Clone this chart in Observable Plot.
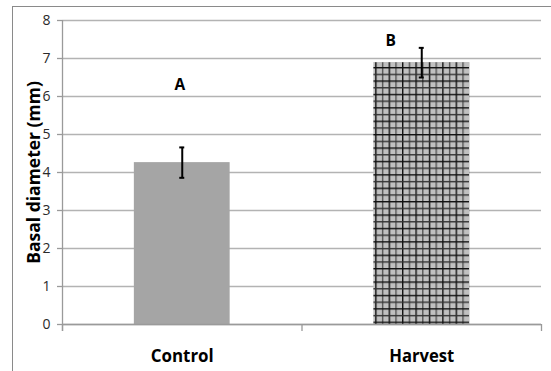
<!DOCTYPE html>
<html>
<head>
<meta charset="utf-8">
<script src="https://cdn.jsdelivr.net/npm/d3@7"></script>
<script src="https://cdn.jsdelivr.net/npm/@observablehq/plot@0.6"></script>
<style>
  html, body { margin: 0; padding: 0; background: #fff; }
  #wrap { position: relative; width: 551px; height: 371px; overflow: hidden; }
  #frame { position: absolute; left: 12px; top: 6px; right: -2px; bottom: -2px;
           border-left: 1px solid #8a8a8a; border-top: 1px solid #8a8a8a; }
  #chart { position: absolute; left: 0; top: 0; }
</style>
</head>
<body>
<div id="wrap"><div id="frame"></div><div id="chart"></div></div>
<script>
// Treatments and mean basal diameter (mm) with standard error
const categories = ["Control", "Harvest"];
const means = [4.26, 6.89];
const errors = [0.40, 0.39];
// Significance letters and where they sit (x in category units, y in mm)
const letters = ["A", "B"];
const letterX = [0.49, 1.37];
const letterY = [6.29, 7.45];
const yTicks = [0, 1, 2, 3, 4, 5, 6, 7, 8];
const yTitle = "Basal diameter (mm)";

const rows = categories.map((c, i) => ({
  cat: c, idx: i, mean: means[i], lo: means[i] - errors[i], hi: means[i] + errors[i]
}));
const letterRows = letters.map((t, i) => ({t, x: letterX[i], y: letterY[i]}));

const barHalf = 0.2;         // bar half-width in category units
const axisGray = "#9a9a9a";
const font = "'Open Sans', 'Liberation Sans', sans-serif";

const chart = Plot.plot({
  width: 551,
  height: 371,
  marginLeft: 62,
  marginRight: 10,
  marginTop: 20,
  marginBottom: 47,
  style: {fontFamily: font, background: "transparent", overflow: "visible"},
  x: {domain: [0, 2]},
  y: {domain: [0, 8]},
  color: {domain: categories, range: ["#a5a5a5", "url(#grid)"]},
  marks: [
    Plot.gridY(yTicks, {stroke: "#b3b3b3", strokeOpacity: 1, strokeWidth: 1.3}),
    Plot.rectY(rows, {x1: d => d.idx + 0.5 - barHalf, x2: d => d.idx + 0.5 + barHalf, y1: 0, y2: "mean", fill: "cat"}),
    Plot.ruleX(rows, {x: d => d.idx + 0.5, y1: "lo", y2: "hi", stroke: "#000", strokeWidth: 2}),
    Plot.ruleY(rows, {y: "hi", x1: d => d.idx + 0.5, x2: d => d.idx + 0.5, insetLeft: -2.5, insetRight: -2.5, stroke: "#000", strokeWidth: 2}),
    Plot.ruleY(rows, {y: "lo", x1: d => d.idx + 0.5, x2: d => d.idx + 0.5, insetLeft: -2.5, insetRight: -2.5, stroke: "#000", strokeWidth: 2}),
    Plot.ruleX([0], {stroke: axisGray, strokeWidth: 1.3, insetBottom: -7}),
    Plot.ruleY([0], {stroke: axisGray, strokeWidth: 1.3}),
    Plot.axisY({ticks: yTicks, tickSize: 5, tickPadding: 7, stroke: axisGray, strokeWidth: 1.3,
      fontSize: 14, fill: "#2a2a2a", label: null}),
    Plot.axisX({ticks: [0, 1, 2], tickSize: 7, stroke: axisGray, strokeWidth: 1.3, tickFormat: () => "", label: null}),
    Plot.text(rows, {x: d => d.idx + 0.5, frameAnchor: "bottom", lineAnchor: "middle", dy: 32, text: "cat",
      fontSize: 18, fontWeight: "bold", fill: "#000"}),
    Plot.text(letterRows, {x: "x", y: "y", text: "t", fontSize: 15.5, fontWeight: "bold", fill: "#000"}),
    Plot.text([yTitle], {frameAnchor: "left", textAnchor: "middle", lineAnchor: "middle", dx: -28, rotate: -90,
      fontSize: 17.5, fontWeight: "bold", fill: "#000"})
  ]
});

// condense the bold category labels to a Calibri-like width
const fitWidths = new Map([["Control", 63], ["Harvest", 65]]);
d3.select(chart).selectAll("text").each(function () {
  const w = fitWidths.get(this.textContent);
  if (w) d3.select(this).attr("textLength", w).attr("lengthAdjust", "spacingAndGlyphs");
});

// crosshatch fill for the harvest bar
d3.select(chart).insert("defs", ":first-child").html(`
  <pattern id="grid" patternUnits="userSpaceOnUse" width="13.4" height="13.4" x="0" y="0">
    <rect width="13.4" height="13.4" fill="#c0c0c0"></rect>
    <rect x="0" y="0" width="1.4" height="13.4" fill="#111"></rect>
    <rect x="6.7" y="0" width="1.4" height="13.4" fill="#555"></rect>
    <rect x="0" y="0" width="13.4" height="1.4" fill="#111"></rect>
    <rect x="0" y="6.7" width="13.4" height="1.4" fill="#333"></rect>
  </pattern>`);

document.getElementById("chart").appendChild(chart);
</script>
</body>
</html>
